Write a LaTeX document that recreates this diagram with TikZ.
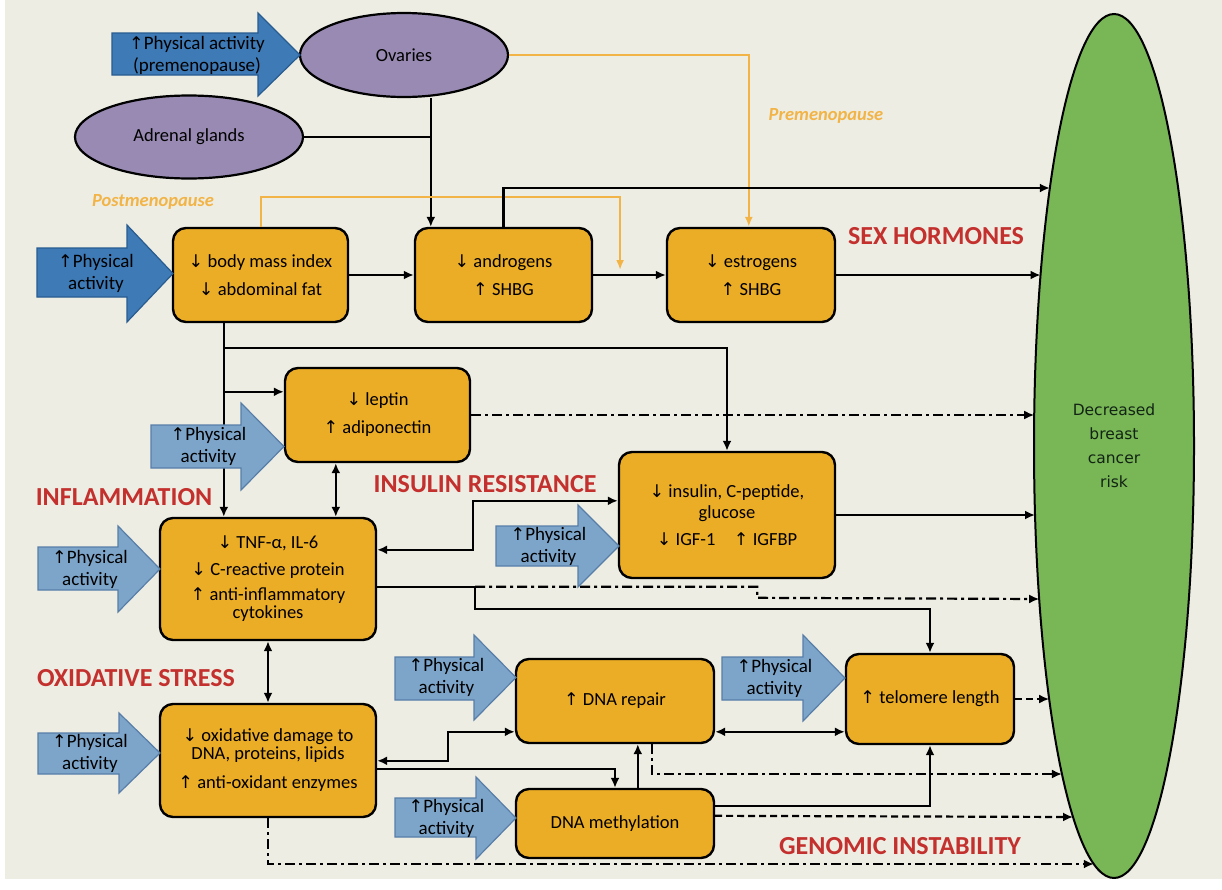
\documentclass[tikz,border=0pt]{standalone}
\usepackage{fontspec}
\setmainfont{Carlito}
\newfontfamily\arrowfont{DejaVu Sans}
\newfontfamily\riskfont{DejaVu Sans}
\usetikzlibrary{shapes.geometric,arrows.meta,calc}
\newcommand\myup{{\arrowfont\fontsize{17.5}{17.5}\selectfont ↑}}
\newcommand\mydn{{\arrowfont\fontsize{17.5}{17.5}\selectfont ↓}}
\definecolor{bgc}{RGB}{237,237,227}
\definecolor{boxor}{RGB}{235,172,38}
\definecolor{purp}{RGB}{152,138,178}
\definecolor{dblue}{RGB}{62,122,182}
\definecolor{dbline}{RGB}{40,92,145}
\definecolor{lblue}{RGB}{125,165,202}
\definecolor{lbline}{RGB}{88,126,168}
\definecolor{riskgreen}{RGB}{120,182,86}
\definecolor{redlab}{RGB}{195,48,45}
\definecolor{orline}{RGB}{242,180,70}
\definecolor{riskt}{RGB}{18,36,20}
\newcommand\pact[9]{%
  \draw[#1] (#3,#4) -- (#6,#4) -- (#6,#7) -- (#9,{(#7+#8)/2}) -- (#6,#8) -- (#6,#5) -- (#3,#5) -- cycle;
  \node[patext] (#2) at ({(#3+#9)/2-9},{(#7+#8)/2}) {\myup Physical\\activity};}
\begin{document}
\begin{tikzpicture}[x=1pt,y=-1pt,
  box/.style={draw=black, line width=2.4pt, fill=boxor, rounded corners=13pt, align=center, inner sep=0pt, font=\fontsize{18.5}{28}\selectfont},
  gland/.style={ellipse, draw=black, line width=2.2pt, fill=purp, inner sep=0pt, font=\fontsize{18.5}{22}\selectfont},
  ln/.style={line width=2.2pt},
  tip/.style={-{Latex[length=10pt,width=9pt]}},
  arr/.style={ln, tip},
  darr/.style={ln, {Latex[length=10pt,width=9pt]}-{Latex[length=10pt,width=9pt]}},
  ddarr/.style={ln, tip, dash pattern=on 10pt off 4pt on 3pt off 4pt},
  dsharr/.style={ln, tip, dash pattern=on 7pt off 4pt},
  oarr/.style={line width=2pt, orline, -{Latex[length=10pt,width=8pt]}},
  lab/.style={text=redlab, font=\fontsize{26}{28}\selectfont\bfseries, inner sep=0pt},
  olab/.style={text=orline, font=\fontsize{18.5}{20}\selectfont\bfseries\itshape, inner sep=0pt},
  patext/.style={align=center, font=\fontsize{19}{22}\selectfont, inner sep=0pt},
  pdark/.style={fill=dblue, draw=dbline, line width=1.2pt},
  plight/.style={fill=lblue, draw=lbline, line width=1.2pt}]
\useasboundingbox (0,0) rectangle (1222,889);
\fill[white] (0,0) rectangle (1222,889);
\fill[bgc] (5,0) rectangle (1222,879);

% glands and target
\node[gland, minimum width=208pt, minimum height=84pt] (ovaries) at (404,55) {Ovaries};
\node[gland, minimum width=228pt, minimum height=83pt] (adrenal) at (189,137) {Adrenal glands};
\node[ellipse, draw=black, line width=2pt, fill=riskgreen, minimum width=160pt, minimum height=864pt, inner sep=0pt, align=center, text=riskt, font=\riskfont\fontsize{15.5}{24}\selectfont] (risk) at (1114,446) {Decreased\\breast\\cancer\\risk};

% boxes
\node[box, minimum width=175pt, minimum height=94pt] (bmi) at (260.5,275) {\mydn\ body mass index\\\mydn\ abdominal fat};
\node[box, minimum width=177pt, minimum height=94pt] (andro) at (503.5,275) {\mydn\ androgens\\\myup\ SHBG};
\node[box, minimum width=168pt, minimum height=94pt] (estro) at (751,275) {\mydn\ estrogens\\\myup\ SHBG};
\node[box, minimum width=185pt, minimum height=94pt] (lep) at (377.5,415) {\mydn\ leptin\\\myup\ adiponectin};
\node[box, minimum width=216pt, minimum height=122pt] (tnf) at (268,579) {\mydn\ TNF-α, IL-6\\[-1pt]\mydn\ C-reactive protein\\[-3pt]\myup\ anti-inflammatory\\[-10pt]cytokines};
\node[box, minimum width=216pt, minimum height=126pt] (ins) at (727,515) {\mydn\ insulin, C-peptide,\\[-7pt]glucose\\[-1pt]\mydn\ IGF-1\quad\myup\ IGFBP};
\node[box, minimum width=216pt, minimum height=113pt] (ox) at (268,760.5) {\mydn\ oxidative damage to\\[-10pt]DNA, proteins, lipids\\[1pt]\myup\ anti-oxidant enzymes};
\node[box, minimum width=198pt, minimum height=84pt] (rep) at (615,701) {\myup\ DNA repair};
\node[box, minimum width=198pt, minimum height=69pt] (meth) at (615,823.5) {DNA methylation};
\node[box, minimum width=168pt, minimum height=90pt] (tel) at (930,699) {\myup\ telomere length};

% labels
\node[lab] (lsex) at (936,236) {SEX HORMONES};
\node[lab] (linf) at (124,497) {INFLAMMATION};
\node[lab] (lins) at (485,484) {INSULIN RESISTANCE};
\node[lab] (lox) at (136,678) {OXIDATIVE STRESS};
\node[lab] (lgen) at (900,846) {GENOMIC INSTABILITY};
\node[olab] (lpost) at (153,202) {Postmenopause};
\node[olab] (lpre) at (826,116) {Premenopause};

% end points on the risk ellipse
\foreach \n/\yy in {r1/188,r2/275,r3/415,r4/515,r5/599,r6/699,r7/774,r8/817,r10/864}
  \coordinate (\n) at ({1114-80*sqrt(1-((\yy-446)/432)^2)},\yy);

% connectors
\coordinate (aIn) at ($(andro.north west)+(17,0)$);
\draw[arr] (aIn |- ovaries.south) -- (aIn);
\draw[ln] (adrenal.east) -- (adrenal.east -| aIn);
\coordinate (eIn) at ($(estro.north west)+(83,0)$);
\draw[oarr] (ovaries.east) -| (eIn);
\coordinate (oEnd) at ($(andro.east)!0.37!(estro.west)+(0,-5)$);
\draw[oarr] (bmi.north) -- ++(0,-30) -| (oEnd);
\draw[arr] (bmi.east) -- (andro.west);
\draw[arr] (andro.east) -- (estro.west);
\draw[arr] (andro.north) |- (r1);
\draw[arr] (estro.east) -- (r2);
\coordinate (bmiS) at ($(bmi.south west)+(52,0)$);
\draw[arr] (bmiS) -- (bmiS |- tnf.north);
\coordinate (lepIn) at ($(lep.north west)+(0,25)$);
\draw[arr] (bmiS |- lepIn) -- (lepIn);
\draw[arr] ($(bmiS)+(0,25)$) -| (ins.north);
\coordinate (lt) at ($(lep.south west)+(52,0)$);
\draw[darr] (lt) -- (lt |- tnf.north);
\coordinate (tnfR1) at ($(tnf.north east)+(0,33)$);
\coordinate (insL) at ($(ins.north west)+(0,50)$);
\draw[darr] (tnfR1) -- ++(96,0) |- (insL);
\draw[ddarr] (lep.east) -- (r3);
\draw[arr] (ins.east) -- (r4);
\coordinate (tnfR2) at ($(tnf.north east)+(0,70)$);
\coordinate (split) at ($(tnfR2)+(98,0)$);
\draw[ln] (tnfR2) -- (split);
\draw[ddarr] (split) -- ++(282,0) -- ++(0,11) -- (r5);
\draw[arr] (split) -- ++(0,22) -| (tel.north);
\draw[darr] (tnf.south) -- (ox.north);
\draw[darr] ($(ox.north east)+(0,58)$) -- ++(71,0) |- ($(rep.north west)+(0,74)$);
\draw[arr] ($(ox.north east)+(0,66)$) -| (meth.north);
\draw[ddarr] (ox.south) |- (r10);
\coordinate (mr) at ($(meth.north west)+(123,0)$);
\draw[arr] (mr) -- (mr |- rep.south);
\coordinate (rt) at ($(rep.north east)+(0,74)$);
\draw[darr] (rt) -- (rt -| tel.west);
\draw[ddarr] ($(rep.south west)+(137,0)$) |- (r7);
\draw[arr] ($(meth.north east)+(0,18)$) -| (tel.south);
\draw[dsharr] ($(meth.north east)+(0,28)$) -- (r8);
\draw[dsharr] (tel.east) -- (r6);

% physical activity arrows
\draw[pdark] (112,33) -- (258,33) -- (258,13) -- (300,55) -- (258,96) -- (258,75) -- (112,75) -- cycle;
\node[patext] (papre) at (197,55.5) {\myup Physical activity\\(premenopause)};
\pact{pdark}{pabmi}{37}{248}{297}{127}{225}{322}{173}
\pact{plight}{palep}{151}{425}{468}{241}{403}{490}{284}
\pact{plight}{patnf}{38}{547}{590}{118}{526}{612}{160}
\pact{plight}{pains}{496}{526}{566}{578}{505}{587}{619}
\pact{plight}{paox}{38}{733}{774}{119}{713}{793}{160}
\pact{plight}{parep}{395}{657}{700}{474}{635}{720}{516}
\pact{plight}{pameth}{395}{798}{837}{476}{777}{859}{516}
\pact{plight}{patel}{722}{657}{700}{803}{635}{721}{845}
\end{tikzpicture}
\end{document}
